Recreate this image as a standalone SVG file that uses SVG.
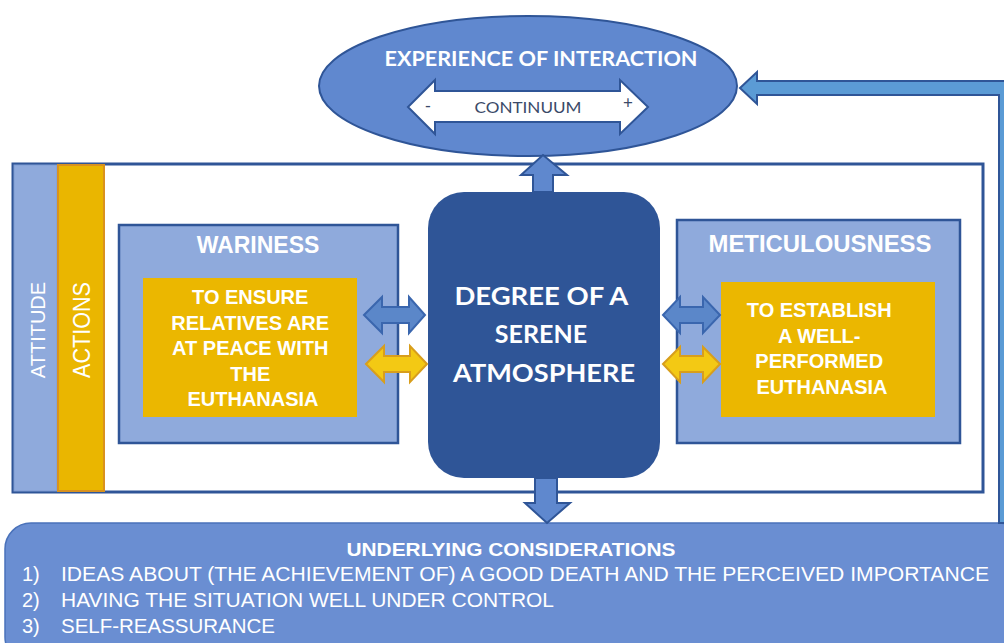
<svg xmlns="http://www.w3.org/2000/svg" width="1004" height="643" viewBox="0 0 1004 643">
<style>
.cal{font-family:Lato,"Open Sans","Liberation Sans",sans-serif;font-weight:bold;fill:#FFFFFF}
.ari{font-family:"Liberation Sans",Arial,sans-serif;font-weight:bold;fill:#FFFFFF}
.reg{font-family:"Liberation Sans",Arial,sans-serif;fill:#FFFFFF}
.box{fill:#8FAADC;stroke:#2F5597;stroke-width:2.5}
.gold{fill:#EBB700}
.blk{fill:#5F88CE;stroke:#2F5597;stroke-width:2}
.bda{fill:#5B87C9;stroke:#3A66AE;stroke-width:2}
.gda{fill:#F3C914;stroke:#D89E1C;stroke-width:2}
</style>
<rect width="1004" height="643" fill="#FFFFFF"/>

<g id="frame">
<rect x="13" y="164" width="970" height="328" fill="#FFFFFF" stroke="#2F5597" stroke-width="3"/>
</g>

<g id="attitude">
<rect x="14" y="165" width="43" height="326" fill="#8FAADC" stroke="#7F9BD2" stroke-width="1"/>
<text class="reg" font-size="20" fill="#EEF2FA" text-anchor="middle" transform="translate(45,330) rotate(-90)">ATTITUDE</text>
</g>

<g id="actions">
<rect x="58" y="165" width="46" height="326" fill="#EAB600" stroke="#D9921E" stroke-width="2"/>
<text class="reg" font-size="24" text-anchor="middle" textLength="96" lengthAdjust="spacingAndGlyphs" transform="translate(90,330) rotate(-90)">ACTIONS</text>
</g>

<g id="experience">
<ellipse cx="528" cy="86" rx="209" ry="70" fill="#6088CF" stroke="#2F5597" stroke-width="2"/>
<text class="cal" font-size="21" x="541" y="66" text-anchor="middle" textLength="313" lengthAdjust="spacingAndGlyphs">EXPERIENCE OF INTERACTION</text>
<path d="M408,107 L435,80 L435,91 L620,91 L620,80 L648,107 L620,134 L620,122 L435,122 L435,134 Z" fill="#FFFFFF" stroke="#2F5597" stroke-width="2"/>
<text x="428" y="112" font-family="Lato,'Open Sans',sans-serif" font-size="17" fill="#3A4A68" text-anchor="middle">-</text>
<text x="528" y="113" font-family="Lato,'Open Sans',sans-serif" font-size="15" fill="#3A4A68" text-anchor="middle" textLength="107" lengthAdjust="spacingAndGlyphs">CONTINUUM</text>
<text x="628" y="109" font-family="Lato,'Open Sans',sans-serif" font-size="17" fill="#3A4A68" text-anchor="middle">+</text>
</g>

<g id="wariness">
<rect class="box" x="119" y="225" width="279" height="218"/>
<text class="ari" font-size="23" x="258" y="253" text-anchor="middle">WARINESS</text>
<rect class="gold" x="143" y="278" width="214" height="139"/>
<text class="ari" font-size="20" text-anchor="middle">
<tspan x="253" y="304">TO ENSURE</tspan>
<tspan x="253" y="330">RELATIVES ARE</tspan>
<tspan x="253" y="355">AT PEACE WITH</tspan>
<tspan x="253" y="381">THE</tspan>
<tspan x="253" y="406">EUTHANASIA</tspan>
</text>
</g>

<g id="meticulousness">
<rect class="box" x="677" y="220" width="283" height="223"/>
<text class="ari" font-size="23" x="820" y="252" text-anchor="middle" textLength="223" lengthAdjust="spacingAndGlyphs">METICULOUSNESS</text>
<rect class="gold" x="721" y="282" width="214" height="135"/>
<text class="ari" font-size="20" text-anchor="middle">
<tspan x="822" y="317">TO ESTABLISH</tspan>
<tspan x="822" y="343">A WELL-</tspan>
<tspan x="822" y="368">PERFORMED</tspan>
<tspan x="822" y="394">EUTHANASIA</tspan>
</text>
</g>

<g id="serene">
<rect x="428" y="192" width="232" height="286" rx="36" ry="36" fill="#2F5597"/>
<text class="cal" font-size="25" text-anchor="middle">
<tspan x="544" y="305" textLength="173" lengthAdjust="spacingAndGlyphs">DEGREE OF A</tspan>
<tspan x="544" y="343">SERENE</tspan>
<tspan x="544" y="382" textLength="182" lengthAdjust="spacingAndGlyphs">ATMOSPHERE</tspan>
</text>
</g>

<g id="considerations">
<rect x="5" y="523" width="1020" height="140" rx="26" ry="26" fill="#6A8ED2" stroke="#4A72BA" stroke-width="1.5"/>
<text class="ari" font-size="19" x="511" y="556" text-anchor="middle" textLength="329" lengthAdjust="spacingAndGlyphs">UNDERLYING  CONSIDERATIONS</text>
<text class="reg" font-size="20" x="22" y="581">1)</text>
<text class="reg" font-size="20" x="61" y="581" textLength="928" lengthAdjust="spacingAndGlyphs">IDEAS ABOUT (THE ACHIEVEMENT OF) A GOOD DEATH AND THE PERCEIVED IMPORTANCE</text>
<text class="reg" font-size="20" x="22" y="607">2)</text>
<text class="reg" font-size="20" x="61" y="607" textLength="493" lengthAdjust="spacingAndGlyphs">HAVING THE SITUATION WELL UNDER CONTROL</text>
<text class="reg" font-size="20" x="22" y="633">3)</text>
<text class="reg" font-size="20" x="61" y="633" textLength="214" lengthAdjust="spacingAndGlyphs">SELF-REASSURANCE</text>
</g>

<g id="connectors">
<path class="blk" d="M543,155 L567,175 L553,175 L553,192 L533,192 L533,175 L521,175 Z"/>
<path class="blk" d="M547,523 L570,503 L557,503 L557,478 L535,478 L535,503 L525,503 Z"/>
<path class="bda" d="M364,315 L382,297 L382,307 L409,307 L409,297 L425,315 L409,333 L409,323 L382,323 L382,333 Z"/>
<path class="gda" d="M366,364 L384,346 L384,356 L410,356 L410,346 L427,364 L410,382 L410,372 L384,372 L384,382 Z"/>
<path class="bda" d="M663,315 L680,297 L680,307 L703,307 L703,297 L720,315 L703,333 L703,323 L680,323 L680,333 Z"/>
<path class="gda" d="M663,364 L680,347 L680,356 L703,356 L703,347 L720,364 L703,382 L703,372 L680,372 L680,382 Z"/>
<path d="M740,88 L757,72 L757,81 L1013,81 L1013,523 L999,523 L999,95 L757,95 L757,104 Z" fill="#5B9BD5" stroke="#2F5597" stroke-width="2"/>
</g>
</svg>
